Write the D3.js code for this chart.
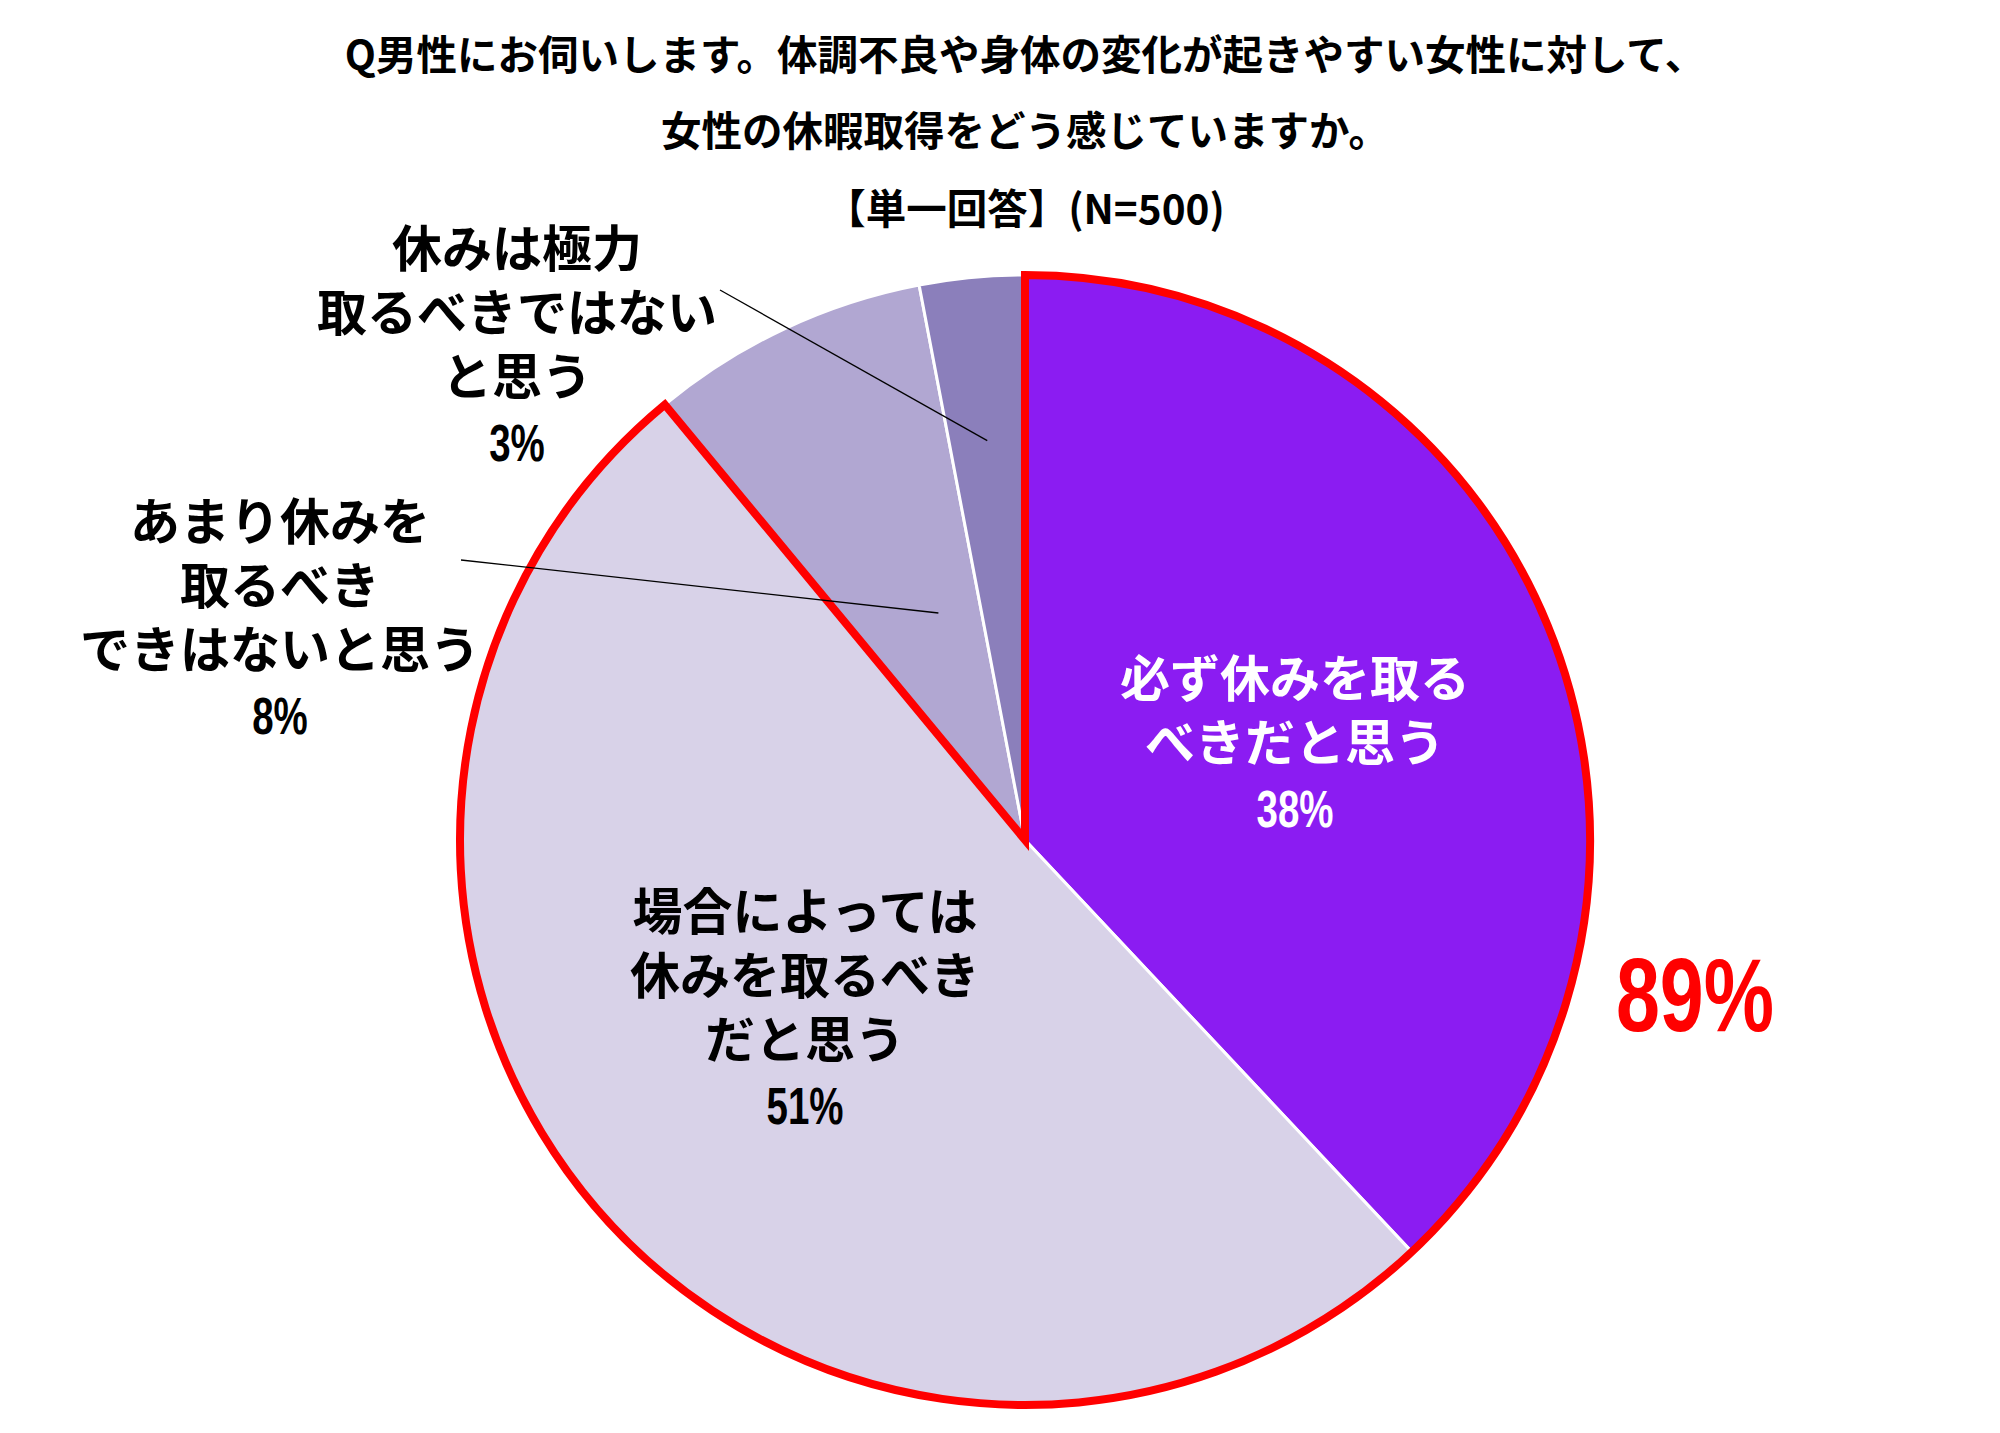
<!DOCTYPE html>
<html><head><meta charset="utf-8">
<script src="https://cdn.jsdelivr.net/npm/d3@7"></script>
<style>
html,body{margin:0;padding:0;background:#fff;}
text{font-family:"Noto Sans CJK JP",sans-serif;font-weight:700;}
.num{font-family:"Liberation Sans","Arial",sans-serif;font-weight:700;}
</style></head>
<body>
<svg id="c" width="2000" height="1433"></svg>
<script>
const titleLines = ["Q男性にお伺いします。体調不良や身体の変化が起きやすい女性に対して、","女性の休暇取得をどう感じていますか。","【単一回答】(N=500)"];
const categories = [
  ["必ず休みを取る","べきだと思う"],
  ["場合によっては","休みを取るべき","だと思う"],
  ["あまり休みを","取るべき","できはないと思う"],
  ["休みは極力","取るべきではない","と思う"]
];
const values = [38, 51, 8, 3];
const colors = ["#8B1CF2","#D8D2E8","#B1A7D2","#8B7FBB"];
const highlightLabel = "89%";
const highlightCount = 2;

const svg = d3.select("#c");
const cx = 1025, cy = 840, R = 565;

// title
const tY = [70, 146, 224];
titleLines.forEach((t,i)=>{
  svg.append("text").attr("x", 1025).attr("y", tY[i])
    .attr("text-anchor","middle").attr("font-size", 40.5).attr("fill","#000").text(t);
});

const g = svg.append("g").attr("transform",`translate(${cx},${cy})`);
const pie = d3.pie().sort(null).value(d=>d)(values);
const arc = d3.arc().innerRadius(0).outerRadius(R);

g.selectAll("path.s").data(pie).join("path").attr("class","s")
  .attr("d",arc).attr("fill",(d,i)=>colors[i])
  .attr("stroke","#fff").attr("stroke-width",3);

// red outline around highlighted group
const hiEnd = pie[highlightCount-1].endAngle;
g.append("path")
  .attr("d", d3.arc().innerRadius(0).outerRadius(R)({startAngle:0,endAngle:hiEnd}))
  .attr("fill","none").attr("stroke","#FF0000").attr("stroke-width",8).attr("stroke-linejoin","miter");

// leader lines (label side -> slice)
const leaders = [
  null, null,
  {from:[461-cx,560-cy], r:0.43, t:0.65},
  {from:[720-cx,290-cy], r:0.71, t:0.5}
];
leaders.forEach((l,i)=>{
  if(!l) return;
  const a = pie[i].startAngle + (pie[i].endAngle-pie[i].startAngle)*l.t;
  const ex = Math.sin(a)*R*l.r, ey = -Math.cos(a)*R*l.r;
  g.append("line").attr("x1",l.from[0]).attr("y1",l.from[1]).attr("x2",ex).attr("y2",ey)
    .attr("stroke","#000").attr("stroke-width",1.3);
});

// labels
const labelPos = [[1295,680],[805,913],[280,523],[517,250]];
const labelColor = ["#fff","#000","#000","#000"];
const lh = 64;
categories.forEach((lines,i)=>{
  lines.forEach((s,j)=>{
    svg.append("text").attr("text-anchor","middle").attr("fill",labelColor[i])
      .attr("x",labelPos[i][0]).attr("y",labelPos[i][1]+j*lh + 17)
      .attr("font-size",50).text(s);
  });
  const px = labelPos[i][0], py = labelPos[i][1]+lines.length*lh + 19;
  svg.append("text").attr("class","num").attr("text-anchor","middle").attr("fill",labelColor[i])
    .attr("transform",`translate(${px},${py}) scale(0.74,1)`)
    .attr("font-size",52).text(values[i]+"%");
});

// highlight total
svg.append("text").attr("class","num").attr("text-anchor","middle")
  .attr("transform","translate(1695,1031) scale(0.76,1)")
  .attr("font-size",104).attr("fill","#FF0000").text(highlightLabel);
</script>
</body></html>
